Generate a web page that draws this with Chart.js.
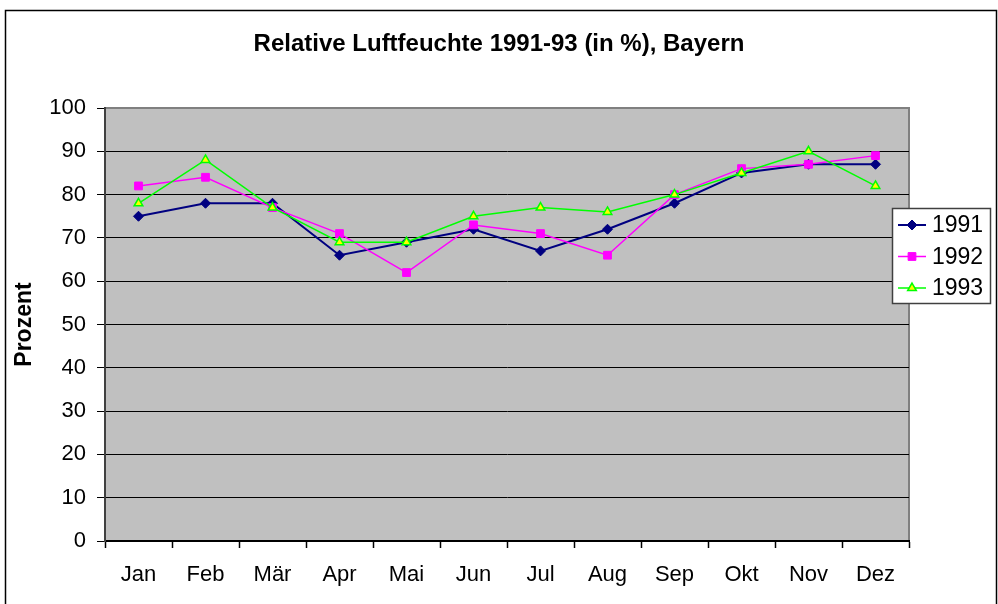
<!DOCTYPE html>
<html>
<head>
<meta charset="utf-8">
<script src="https://cdn.jsdelivr.net/npm/chart.js@4.4.1/dist/chart.umd.min.js"></script>
<style>
  html, body { margin: 0; padding: 0; background: #fff; }
  #wrap { width: 998px; height: 604px; }
</style>
</head>
<body>
<div id="wrap"><canvas id="chart" width="998" height="604"></canvas></div>
<script>
// data
const months = ["Jan", "Feb", "Mär", "Apr", "Mai", "Jun", "Jul", "Aug", "Sep", "Okt", "Nov", "Dez"];
const yTicks = [0, 10, 20, 30, 40, 50, 60, 70, 80, 90, 100];
const rh1991 = [75, 78, 78, 66, 69, 72, 67, 72, 78, 85, 87, 87];
const rh1992 = [82, 84, 77, 71, 62, 73, 71, 66, 80, 86, 87, 89];
const rh1993 = [78, 88, 77, 69, 69, 75, 77, 76, 80, 85, 90, 82];

const FONT = "'Liberation Sans', Arial, sans-serif";

// white page, outer frame, grey plot area
const framePlugin = {
  id: "frame",
  beforeDraw(chart) {
    const { ctx, chartArea: a } = chart;
    ctx.save();
    ctx.fillStyle = "#fff";
    ctx.fillRect(0, 0, chart.width, chart.height);
    ctx.strokeStyle = "#000";
    ctx.lineWidth = 1.5;
    ctx.strokeRect(5.5, 10.5, 991, 620);
    ctx.fillStyle = "#c0c0c0";
    ctx.fillRect(a.left, a.top, a.right - a.left, a.bottom - a.top);
    ctx.strokeStyle = "#808080";
    ctx.lineWidth = 2;
    ctx.beginPath();
    ctx.moveTo(a.left, a.top);
    ctx.lineTo(a.right, a.top);
    ctx.lineTo(a.right, a.bottom);
    ctx.stroke();
    ctx.restore();
  }
};

// Excel-like legend box, partly over the plot's right edge
const legendPlugin = {
  id: "boxLegend",
  afterDraw(chart) {
    const { ctx } = chart;
    const box = { x: 892, y: 208, w: 98, h: 95 };
    ctx.save();
    ctx.fillStyle = "#fff";
    ctx.fillRect(box.x, box.y, box.w, box.h);
    ctx.strokeStyle = "#404040";
    ctx.lineWidth = 1.5;
    ctx.strokeRect(box.x + 0.5, box.y + 0.5, box.w, box.h);
    ctx.font = `23px ${FONT}`;
    ctx.textBaseline = "middle";
    chart.data.datasets.forEach((ds, i) => {
      const y = 225 + i * 31.5;
      ctx.strokeStyle = ds.borderColor;
      ctx.lineWidth = ds.borderWidth;
      ctx.beginPath();
      ctx.moveTo(898, y);
      ctx.lineTo(926, y);
      ctx.stroke();
      ctx.fillStyle = ds.pointBackgroundColor;
      ctx.strokeStyle = ds.pointBorderColor;
      ctx.lineWidth = ds.pointBorderWidth;
      Chart.helpers.drawPoint(ctx, {
        pointStyle: ds.pointStyle,
        radius: ds.pointRadius,
        rotation: 0,
        borderWidth: ds.pointBorderWidth
      }, 912, y);
      ctx.fillStyle = "#000";
      ctx.fillText(ds.label, 932, y + 1);
    });
    ctx.restore();
  }
};

new Chart(document.getElementById("chart"), {
  type: "line",
  data: {
    labels: months,
    datasets: [
      {
        label: "1991",
        data: rh1991,
        borderColor: "#000080",
        borderWidth: 2,
        pointStyle: "rectRot",
        pointRadius: 5,
        pointBackgroundColor: "#000080",
        pointBorderColor: "#000080",
        pointBorderWidth: 1,
        order: 3
      },
      {
        label: "1992",
        data: rh1992,
        borderColor: "#ff00ff",
        borderWidth: 1.5,
        pointStyle: "rect",
        pointRadius: 5.5,
        pointBackgroundColor: "#ff00ff",
        pointBorderColor: "#ff00ff",
        pointBorderWidth: 1,
        order: 2
      },
      {
        label: "1993",
        data: rh1993,
        borderColor: "#00ff00",
        borderWidth: 1.5,
        pointStyle: "triangle",
        pointRadius: 5,
        pointBackgroundColor: "#ffff00",
        pointBorderColor: "#00ff00",
        pointBorderWidth: 1.5,
        order: 1
      }
    ]
  },
  options: {
    responsive: false,
    devicePixelRatio: 1,
    animation: false,
    events: [],
    layout: { padding: 0 },
    plugins: {
      legend: { display: false },
      tooltip: { enabled: false },
      title: {
        display: true,
        text: "Relative Luftfeuchte 1991-93 (in %), Bayern",
        color: "#000",
        font: { family: FONT, size: 24, weight: "bold", lineHeight: 1.2 },
        padding: { top: 29.6, bottom: 49.6 }
      }
    },
    scales: {
      x: {
        offset: true,
        grid: { offset: true, drawOnChartArea: false, tickLength: 7, tickColor: "#000", tickWidth: 1.5 },
        border: { color: "#000", width: 2 },
        ticks: { color: "#000", font: { family: FONT, size: 22 }, padding: 14, maxRotation: 0 },
        afterFit: (s) => { s.height = 63; }
      },
      y: {
        min: 0,
        max: 100,
        afterBuildTicks: (s) => { s.ticks = yTicks.map((v) => ({ value: v })); },
        grid: {
          color: (c) => (c.tick && c.tick.value === 100 ? "#808080" : "#000"),
          lineWidth: 1,
          tickLength: 8,
          tickColor: "#000"
        },
        border: { color: "#404040", width: 2 },
        ticks: { color: "#000", font: { family: FONT, size: 22 }, padding: 11 },
        title: {
          display: true,
          text: "Prozent",
          color: "#000",
          font: { family: FONT, size: 23, weight: "bold", lineHeight: 1.2 },
          padding: { top: 11, bottom: 0 }
        },
        afterFit: (s) => { s.width = 105; }
      },
      // empty right-hand strip that leaves room for the legend
      yRight: {
        position: "right",
        min: 0,
        max: 100,
        display: true,
        grid: { display: false, drawTicks: false },
        border: { display: false },
        ticks: { display: false },
        afterFit: (s) => { s.width = 89; }
      }
    }
  },
  plugins: [framePlugin, legendPlugin]
});
</script>
</body>
</html>
